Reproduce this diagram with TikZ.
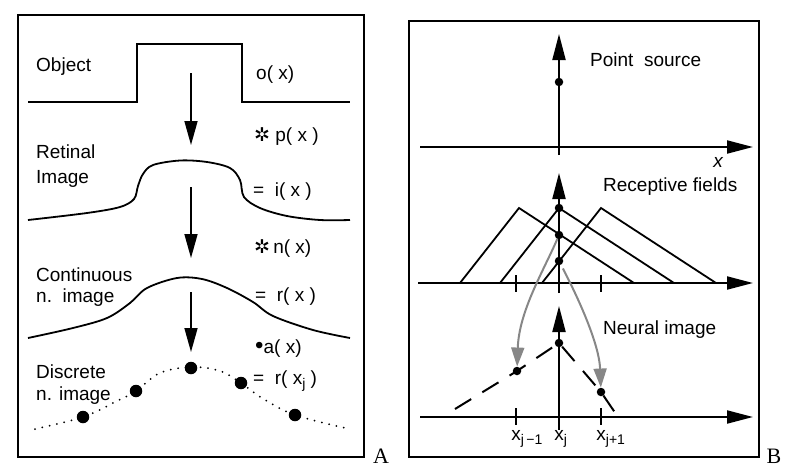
\documentclass[tikz,border=0pt]{standalone}
\usepackage{fontspec}
\setmainfont{Liberation Sans}
\newfontfamily\symfont{DejaVu Sans}
\newfontfamily\panelfont{Liberation Serif}
\usepackage{tikz}
\usetikzlibrary{arrows.meta, positioning, calc}
\definecolor{inkblack}{RGB}{0, 0, 0}
\definecolor{arrowgray}{RGB}{135, 135, 135}
\newcommand{\subidx}[1]{\raisebox{-4pt}{\fontsize{14}{16}\selectfont #1}}

\begin{document}
\begin{tikzpicture}[x=1pt, y=-1pt,
  frame/.style={draw=inkblack, line width=2.2pt},
  curve/.style={line width=1.8pt, color=inkblack},
  arrow/.style={-{Triangle[length=24pt, width=13pt]}, line width=1.6pt, color=inkblack},
  axis/.style={-{Triangle[length=26pt, width=13pt]}, line width=2pt, color=inkblack},
  grayarrow/.style={-{Triangle[length=19pt, width=13pt]}, line width=2pt, color=arrowgray},
  tickmark/.style={line width=1.8pt},
  dotline/.style={line width=2pt, line cap=round, dash pattern=on 0pt off 7.5pt},
  dashline/.style={line width=2pt, dash pattern=on 19pt off 13pt},
  dot/.style={circle, fill=inkblack, inner sep=0pt, minimum size=#1},
  dot/.default=8.5pt,
  label/.style={font=\fontsize{19}{22}\selectfont, anchor=base west, inner sep=0pt},
  xlabel/.style={font=\fontsize{19}{22}\selectfont, anchor=base west, inner sep=0pt, xshift=-4.8pt},
  panel/.style={font=\panelfont\fontsize{22}{24}\selectfont, inner sep=0pt}
]
  \useasboundingbox (0,0) rectangle (793,475);

  % panel A
  \draw[frame] (18,15) rectangle (364,457);
  \node[panel] (pa) at (381,456) {A};

  \node[label] (object)   at (36,71)  {Object};
  \node[label] (retinal)  at (36,158) {Retinal};
  \node[label] (image)    at (36,183) {Image};
  \node[label] (contin)   at (36,281) {Continuous};
  \node[label] (cimage)   at (36,302) {n.\ \ image};
  \node[label] (discrete) at (36,378) {Discrete};
  \node[label] (dimage)   at (36,400) {n. image};

  \node[label] (ox)  at (256,79)  {o( x)};
  \node[label] (px)  at (254,141) {{\symfont\fontsize{19}{20}\selectfont ✲} p( x )};
  \node[label] (ix)  at (253,196) {=\ \ i( x )};
  \node[label] (nx)  at (254,253) {{\symfont\fontsize{19}{20}\selectfont ✲}\,n( x)};
  \node[label] (rx)  at (255,301) {=\ \ r( x )};
  \node[label] (ax)  at (255,353) {{\fontsize{24}{22}\selectfont •}a( x)};
  \node[label] (rxj) at (253,384) {=\ \ r( x\subidx{j} )};

  \draw[curve] (28,102) -- (137,102) -- (137,44) -- (242,44) -- (242,102) -- (350,102);
  \draw[curve] plot[smooth, tension=0.55] coordinates {(28,220) (87,213) (120,207) (134,199)
    (138,186) (143,174) (153,165) (180,160.5) (207,162) (230,168) (240,180) (244,197)
    (260,208) (287,216) (320,220) (350,220)};
  \draw[curve] plot[smooth, tension=0.55] coordinates {(28,338) (73,328) (107,318) (130,303)
    (147,288) (177,278) (202,279) (227,288) (253,302) (273,316) (313,330) (350,338)};

  \node[dot=12.5pt] (d1) at (83,417)  {};
  \node[dot=12.5pt] (d2) at (136,391) {};
  \node[dot=12.5pt] (d3) at (191,368) {};
  \node[dot=12.5pt] (d4) at (241,383) {};
  \node[dot=12.5pt] (d5) at (295,415) {};
  \draw[dotline] plot[smooth, tension=0.6] coordinates {(35,429) (83,417) (117,401) (136,391)
    (160,373) (191,367) (220,371) (241,383) (262,398) (295,415) (350,429)};

  \coordinate (s1) at (191,73);  \coordinate (e1) at (191,145);
  \coordinate (s2) at (191,187); \coordinate (e2) at (191,258);
  \coordinate (s3) at (191,292); \coordinate (e3) at (191,352);
  \draw[arrow] (s1) -- (e1);
  \draw[arrow] (s2) -- (e2);
  \draw[arrow] (s3) -- (e3);

  % panel B
  \draw[frame] (409,21) rectangle (759,457);
  \node[panel] (pb) at (774,456) {B};

  \node[label] (source)    at (590,66)  {Point\ \ source};
  \node[label] (fields)    at (603,191) {Receptive fields};
  \node[label] (neural)    at (603,334) {Neural image};
  \node[font=\fontsize{19}{22}\selectfont\itshape, inner sep=0pt] (xvar) at (718,162) {x};

  \coordinate (h1s) at (420,147); \coordinate (h1e) at (753,147);
  \coordinate (v1s) at (559,155); \coordinate (v1e) at (559,34);
  \coordinate (h2s) at (418,283); \coordinate (h2e) at (753,283);
  \coordinate (v2s) at (559,293); \coordinate (v2e) at (559,173);
  \coordinate (h3s) at (420,417); \coordinate (h3e) at (753,417);
  \coordinate (v3s) at (559,430); \coordinate (v3e) at (559,306);
  \draw[axis] (h1s) -- (h1e);
  \draw[axis] (v1s) -- (v1e);
  \draw[axis] (h2s) -- (h2e);
  \draw[axis] (v2s) -- (v2e);
  \draw[axis] (h3s) -- (h3e);
  \draw[axis] (v3s) -- (v3e);

  \node[dot] (src) at (559,82) {};

  \foreach \apex in {519,559,601}
    \draw[curve] (\apex-59,283) -- (\apex,208) -- (\apex+115,283);
  \foreach \tx in {516,601} {
    \draw[tickmark] (\tx,275) -- (\tx,292);
    \draw[tickmark] (\tx,408) -- (\tx,425);
  }

  \node[dot] (rf1) at (559,208) {};
  \node[dot] (rf2) at (559,235) {};
  \node[dot] (rf3) at (559,261) {};

  \node[dot] (n1) at (517,371) {};
  \node[dot] (n2) at (559,343) {};
  \node[dot] (n3) at (601,392) {};
  \coordinate (dstart) at (455,409);
  \coordinate (dend)   at (618,417);
  \draw[dashline] (dstart) -- (n1.center) -- (n2.center) -- (n3.center) -- (dend);

  \draw[grayarrow] (rf2) .. controls +(-15,35) and +(2,-60) .. (n1);
  \draw[grayarrow, shorten <=4pt] (rf3) .. controls +(13,25) and +(-2,-52) .. (n3);

  \node[xlabel] (xjm) at (516,440) {x\subidx{j\,−1}};
  \node[xlabel] (xj)  at (559,440) {x\subidx{j}};
  \node[xlabel] (xjp) at (601,440) {x\subidx{j+1}};
\end{tikzpicture}
\end{document}
